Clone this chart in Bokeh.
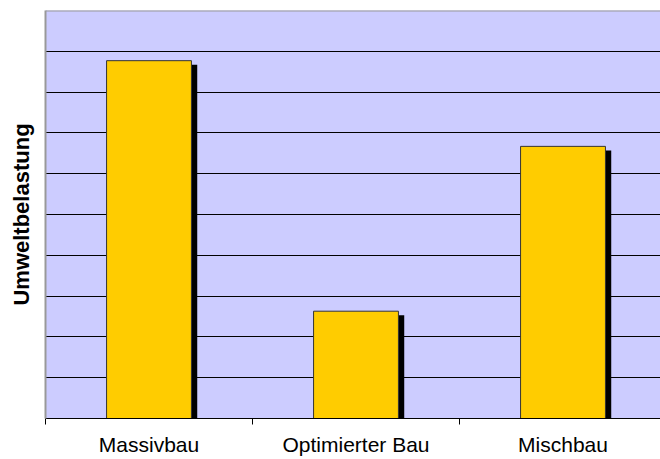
from bokeh.plotting import figure
from bokeh.models import (ColumnDataSource, Range1d, FixedTicker, SingleIntervalTicker,
                          Span)
from bokeh.transform import dodge
from bokeh.embed import file_html
from bokeh.resources import INLINE

# --- data -------------------------------------------------------------
categories = ["Massivbau", "Optimierter Bau", "Mischbau"]
positions = [0.5, 1.5, 2.5]
values = [8.77, 2.63, 6.67]
y_max = 10

src = ColumnDataSource(dict(x=positions, top=values, cat=categories))

p = figure(width=660, height=459,
           x_range=Range1d(0, 2.971), y_range=Range1d(0, y_max),
           output_backend="svg", toolbar_location=None,
           min_border_left=45, min_border_right=0,
           min_border_top=10, min_border_bottom=41)

p.background_fill_color = "#CCCCFF"
p.border_fill_color = "white"
p.outline_line_color = None

# grid
p.xgrid.visible = False
p.ygrid.ticker = SingleIntervalTicker(interval=1)
p.ygrid.grid_line_color = "black"
p.ygrid.grid_line_width = 1

# top border
p.add_layout(Span(location=y_max, dimension="width", line_color="#999999", line_width=2))

# shadow
p.vbar(x=dodge("x", 0.028, range=p.x_range), top=dodge("top", -0.1, range=p.y_range),
       bottom=0, width=0.41, source=src, fill_color="black", line_color=None)
# bars
p.vbar(x="x", top="top", bottom=0, width=0.41, source=src,
       fill_color="#FFCC00", line_color="#333333", line_width=1)

# x axis
xa = p.xaxis[0]
xa.ticker = FixedTicker(ticks=positions, minor_ticks=[0, 1, 2, 3])
xa.major_label_overrides = {pos: c for pos, c in zip(positions, categories)}
xa.major_tick_line_color = None
xa.major_tick_in = 0
xa.major_tick_out = 0
xa.minor_tick_line_color = "black"
xa.minor_tick_in = 0
xa.minor_tick_out = 6
xa.axis_line_color = "black"
xa.axis_line_width = 1
xa.major_label_text_font = "Liberation Sans"
xa.major_label_text_font_size = "21px"
xa.major_label_text_color = "black"
xa.major_label_standoff = 8

# y axis
ya = p.yaxis[0]
ya.ticker = FixedTicker(ticks=[])
ya.axis_line_color = "#999999"
ya.axis_line_width = 2
ya.major_tick_line_color = None
ya.minor_tick_line_color = None
ya.major_label_standoff = 0
ya.axis_label = "Umweltbelastung"
ya.axis_label_text_font = "Liberation Sans"
ya.axis_label_text_font_style = "bold"
ya.axis_label_text_font_size = "22px"
ya.axis_label_text_color = "black"
ya.axis_label_standoff = 12

open("out.html", "w").write(file_html(p, INLINE))
